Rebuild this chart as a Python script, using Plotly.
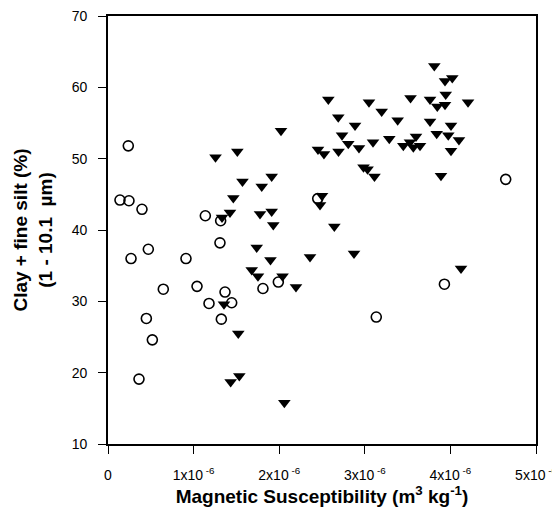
import plotly.graph_objects as go

# Open circles (x in units of 1e-6 m3/kg, y in %)
circle_x = [0.14, 0.245, 0.237, 0.397, 0.269, 0.471, 0.448, 0.518, 0.362, 0.646,
            0.911, 1.04, 1.137, 1.18, 1.316, 1.308, 1.324, 1.367, 1.445, 1.81,
            1.99, 2.45, 3.134, 3.93, 4.646]
circle_y = [44.2, 44.1, 51.8, 42.9, 36.0, 37.3, 27.6, 24.6, 19.1, 31.7,
            36.0, 32.1, 42.0, 29.7, 41.3, 38.2, 27.5, 31.3, 29.8, 31.8,
            32.7, 44.4, 27.8, 32.4, 47.1]

# Filled down-triangles
tri_x = [3.812, 3.937, 4.022, 3.945, 2.574, 3.049, 3.197, 3.534, 3.762, 3.847,
         3.937, 4.206, 2.690, 2.886, 3.384, 3.762, 4.007, 2.734, 2.807, 2.693,
         2.932, 3.096, 3.286, 3.450, 3.528, 3.598, 3.645, 3.567, 3.840, 3.975,
         4.100, 4.007, 2.985, 3.032, 3.113, 3.890, 2.021, 1.256, 1.511, 2.453,
         2.523, 1.571, 1.796, 1.912, 1.464, 2.500, 2.477, 1.425, 1.332, 1.776,
         1.912, 1.931, 2.644, 1.737, 1.898, 2.360, 2.874, 4.124, 1.679, 1.752,
         2.039, 2.196, 1.355, 1.522, 1.433, 1.534, 2.060]
tri_y = [63.0, 60.9, 61.3, 59.0, 58.3, 57.9, 56.6, 58.5, 58.3, 57.3,
         57.55, 57.9, 55.8, 54.65, 55.4, 55.2, 54.65, 53.3, 52.1, 51.0,
         51.5, 52.3, 52.8, 51.8, 52.3, 53.1, 51.8, 51.6, 53.5, 53.3,
         52.6, 51.1, 48.8, 48.5, 47.5, 47.6, 53.9, 50.2, 51.0, 51.3,
         50.65, 46.8, 46.1, 47.5, 44.5, 44.8, 43.5, 42.45, 41.75, 42.25,
         42.6, 40.7, 40.5, 37.55, 35.8, 36.2, 36.7, 34.6, 34.4, 33.5,
         33.5, 32.0, 29.6, 25.5, 18.7, 19.55, 15.8]

x_tickvals = [0, 1e-6, 2e-6, 3e-6, 4e-6, 5e-6]
x_ticktext = ["0", "1x10<sup> -6</sup>", "2x10<sup> -6</sup>", "3x10<sup> -6</sup>",
              "4x10<sup> -6</sup>", "5x10<sup> -6</sup>"]
y_tickvals = [10, 20, 30, 40, 50, 60, 70]

SCALE = 1e-6

fig = go.Figure()
fig.add_trace(go.Scatter(
    x=[v * SCALE for v in tri_x], y=tri_y, mode="markers",
    marker=dict(symbol="triangle-down", size=11, color="black",
                line=dict(width=0)),
    showlegend=False, hoverinfo="skip"))
fig.add_trace(go.Scatter(
    x=[v * SCALE for v in circle_x], y=circle_y, mode="markers",
    marker=dict(symbol="circle-open", size=10, color="black",
                line=dict(width=1.6, color="black")),
    showlegend=False, hoverinfo="skip"))

font = "Liberation Sans, Arial, sans-serif"
# the page body adds an 8px margin, so the figure is sized/offset to compensate
fig.update_layout(
    width=552, height=511,
    margin=dict(l=100, r=24, t=8, b=75),
    paper_bgcolor="white", plot_bgcolor="white",
    font=dict(family=font, size=14, color="black"),
    xaxis=dict(
        range=[0, 5e-6], tickvals=x_tickvals, ticktext=x_ticktext,
        automargin=False, ticklabeloverflow="allow",
        showgrid=False, zeroline=False, showline=True, mirror=True,
        linecolor="black", linewidth=1.6,
        ticks="outside", ticklen=8, tickwidth=1, tickcolor="black",
        ticklabelstandoff=9,
        tickfont=dict(size=14),
        title=dict(text="<b>Magnetic Susceptibility (m<sup>3</sup> kg<sup>-1</sup>)</b>",
                   font=dict(size=19), standoff=8),
    ),
    yaxis=dict(
        range=[10, 70], tickvals=y_tickvals,
        automargin=False, ticklabeloverflow="allow",
        showgrid=False, zeroline=False, showline=True, mirror=True,
        linecolor="black", linewidth=1.6,
        ticks="outside", ticklen=8, tickwidth=1, tickcolor="black",
        ticklabelstandoff=8,
        tickfont=dict(size=14),
        title=dict(text="<b>Clay + fine silt (%)<br>(1 - 10.1 \u00a0\u00b5m)</b>",
                   font=dict(size=19), standoff=14),
    ),
)

fig.write_html("out.html")
